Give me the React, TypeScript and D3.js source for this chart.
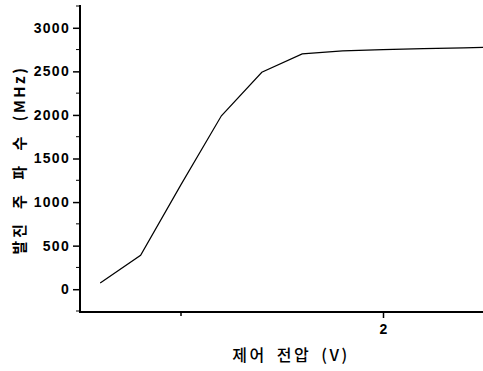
import { useEffect, useRef } from "react";
import * as d3 from "d3";

// control voltage (V) and oscillation frequency (MHz)
const voltage = [1.3, 1.4, 1.5, 1.6, 1.7, 1.8, 1.9, 2.0, 2.1, 2.2, 2.3];
const frequency = [70, 390, 1200, 1990, 2490, 2700, 2735, 2750, 2760, 2770, 2780];

const yTicks = [0, 500, 1000, 1500, 2000, 2500, 3000];
const yMinorTicks = [-250, 250, 750, 1250, 1750, 2250, 2750, 3250];
const xTicks = [2];
const xMinorTicks = [1.5];

const xLabel = "제어 전압 (V)";
const yLabel = "발진 주 파 수 (MHz)";

const width = 483;
const height = 371;

export default function App() {
  const ref = useRef<SVGSVGElement>(null);

  useEffect(() => {
    const svg = d3.select(ref.current);
    svg.selectAll("*").remove();

    // plot box: left axis at x=80, bottom axis at y=312
    const xScale = d3.scaleLinear().domain([1.25, 2.25]).range([80, 484]);
    const yScale = d3.scaleLinear().domain([-250, 3250]).range([311, 6]);

    const tickFont = "'Liberation Sans', Arial, sans-serif";
    const labelFont = "'Noto Sans CJK KR', sans-serif";

    // line, clipped at the right edge
    svg.append("clipPath").attr("id", "plot-clip")
      .append("rect")
      .attr("x", 80).attr("y", 0)
      .attr("width", width - 80).attr("height", 312);

    const points: [number, number][] = voltage.map((v, i) => [xScale(v), yScale(frequency[i])]);
    svg.append("path")
      .attr("d", d3.line()(points))
      .attr("clip-path", "url(#plot-clip)")
      .attr("fill", "none")
      .attr("stroke", "#000")
      .attr("stroke-width", 1.2);

    // y axis
    const yAxis = svg.append("g")
      .attr("transform", "translate(80,0)")
      .call(d3.axisLeft(yScale).tickValues(yTicks).tickSize(7).tickPadding(3).tickFormat(d3.format("d")));
    yAxis.select(".domain").remove();
    yAxis.selectAll(".tick line").attr("stroke-width", 1.5);
    yAxis.selectAll("text")
      .attr("font-family", tickFont)
      .attr("font-weight", "bold")
      .attr("font-size", 14)
      .attr("letter-spacing", 1.3)
      .attr("fill", "#000");
    yAxis.selectAll(".minor")
      .data(yMinorTicks)
      .join("line")
      .attr("class", "minor")
      .attr("x1", -4).attr("x2", 0)
      .attr("y1", d => yScale(d)).attr("y2", d => yScale(d))
      .attr("stroke", "#000");
    svg.append("line")
      .attr("x1", 80).attr("x2", 80)
      .attr("y1", 5).attr("y2", 313)
      .attr("stroke", "#000")
      .attr("stroke-width", 2);

    // x axis
    const xAxis = svg.append("g")
      .attr("transform", "translate(0,312)")
      .call(d3.axisBottom(xScale).tickValues(xTicks).tickSize(6).tickPadding(6).tickFormat(d3.format("d")));
    xAxis.select(".domain").remove();
    xAxis.selectAll(".tick line").attr("stroke-width", 1.5);
    xAxis.selectAll("text")
      .attr("font-family", tickFont)
      .attr("font-weight", "bold")
      .attr("font-size", 14)
      .attr("fill", "#000");
    xAxis.selectAll(".minor")
      .data(xMinorTicks)
      .join("line")
      .attr("class", "minor")
      .attr("x1", d => xScale(d)).attr("x2", d => xScale(d))
      .attr("y1", 0).attr("y2", 4)
      .attr("stroke", "#000")
      .attr("stroke-width", 1.5);
    svg.append("line")
      .attr("x1", 79).attr("x2", width)
      .attr("y1", 312).attr("y2", 312)
      .attr("stroke", "#000")
      .attr("stroke-width", 2);

    // axis titles
    svg.append("text")
      .attr("x", 291)
      .attr("y", 361)
      .attr("text-anchor", "middle")
      .attr("font-family", labelFont)
      .attr("font-size", 16)
      .attr("font-weight", 500)
      .attr("letter-spacing", 2.5)
      .attr("word-spacing", 4)
      .attr("fill", "#000")
      .text(xLabel);

    svg.append("text")
      .attr("transform", "translate(25,160) rotate(-90)")
      .attr("text-anchor", "middle")
      .attr("font-family", labelFont)
      .attr("font-size", 15)
      .attr("font-weight", "bold")
      .attr("letter-spacing", 2.5)
      .attr("word-spacing", 7)
      .attr("fill", "#000")
      .text(yLabel);
  }, []);

  return (
    <svg
      ref={ref}
      width={width}
      height={height}
      style={{ position: "absolute", left: 0, top: 0, background: "#fff" }}
    />
  );
}
